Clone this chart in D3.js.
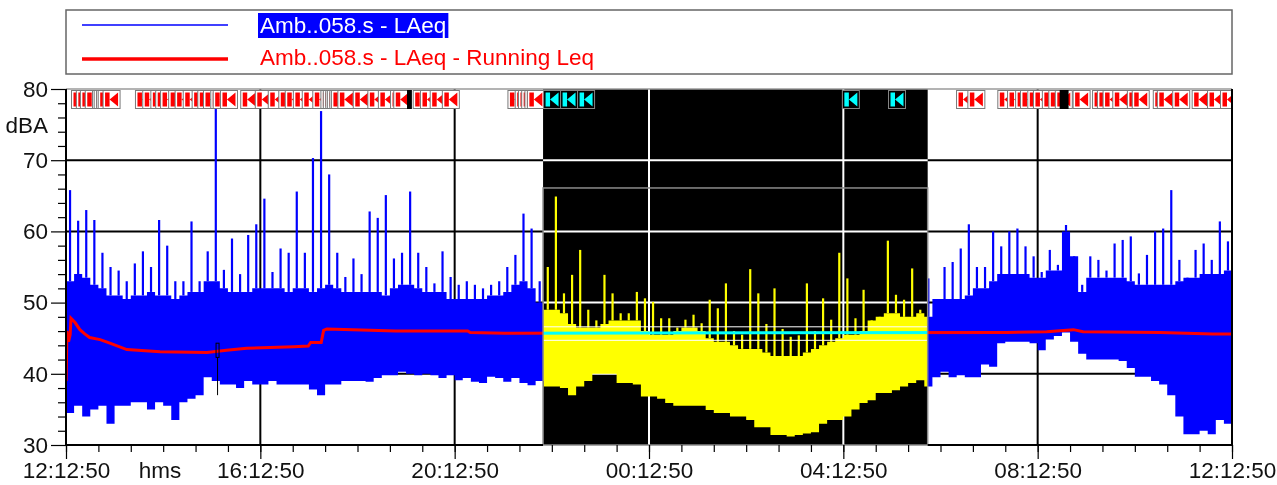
<!DOCTYPE html>
<html>
<head>
<meta charset="utf-8">
<script src="https://cdn.jsdelivr.net/npm/d3@7"></script>
<style>
  body { margin: 0; background: #fff; }
  text { font-family: "Liberation Sans", Arial, sans-serif; }
</style>
</head>
<body>
<div id="chart"></div>
<script>
// record starts 12:12:50, one envelope bin every 10 minutes (144 bins)
const startClock = "12:12:50";
const binMinutes = 10;

// lower edge of the LAeq trace in each bin (dBA)
const lo = [34.5, 35.5, 34, 35, 35.5, 33, 35.5, 35.5, 36, 36, 35, 36, 35.5, 33.5, 36, 36.5, 37, 39.5, 39, 38.5,
  38.5, 38, 39, 38.5, 38.5, 39, 38.5, 38.5, 38.5, 38.5, 37.8, 37, 38.5, 38.5, 39, 39, 39,
  38.9, 39.4, 39.8, 39.8, 40.3, 40, 39.8, 40, 39.8, 39.4, 39.8, 39.1, 39.4, 38.9, 38.7, 39.6, 39.4, 38.9, 39.4, 38.7, 38.4,
  39, 38.2, 38.2, 38, 37, 38.2, 39, 40, 40, 40, 38.7, 38.7, 38.5, 36.8, 36.8, 36.5, 35.9, 35.5, 35.5, 35.5,
  35.5, 34.9, 34.5, 34.5, 34, 34, 33.5, 32.5, 32.5, 31.4, 31.4, 31.2, 31.4, 31.6, 31.8, 33, 33.5, 33.5, 34, 35,
  35.9, 36.3, 37.3, 37.3, 37.7, 38.2, 38.7, 39.1, 38.2,
  39.5, 40.3, 39.5, 39.8, 39.5, 39.5, 41.3, 41, 44.3, 44.5, 44.5, 44.5, 44.3, 43.3, 44.8, 45.3, 45.8, 44.5, 42.8,
  42, 42, 42, 42, 41.8, 40.8, 39.6, 39.6, 39, 38.5, 37, 34, 31.5, 31.5, 32, 31.5, 33.5, 33];

// top of the dense part of the trace in each bin (dBA)
const body = [53, 54, 53.5, 52.5, 52, 51, 51, 50.5, 51, 51, 51.5, 51, 51, 50.5, 51, 51.5, 51.5, 53, 53, 52,
  51.5, 51.5, 51.5, 52, 52, 52, 52, 51.5, 52, 52, 51.5, 52, 52.5, 52, 51.5, 51.5, 51.5,
  51.5, 51.5, 51, 52, 52.5, 52.5, 52, 51.5, 51.5, 51.5, 50.5, 50.5, 50.5, 50.5, 50.5, 51, 51, 51.5, 52.5, 53, 52,
  50, 49, 49, 48.5, 47, 46.5, 46.5, 46.5, 47, 47.5, 47.5, 47.5, 47.5, 46, 45.5, 45.5, 45.5, 46, 46.5, 46.5,
  46, 45, 44.5, 44.5, 44, 43.5, 43.5, 43.5, 43, 42.5, 42.5, 42.5, 42.5, 43, 43.5, 44, 44.5, 45, 45.5, 45.5,
  46, 47.5, 48, 48.5, 48.5, 48, 48, 48.5, 48,
  50.5, 50.5, 50.5, 50.5, 51, 52, 52, 53, 54, 54, 54, 54, 53.5, 53.5, 54.5, 54.5, 60, 56.5, 51.5,
  53.5, 53.5, 53.5, 53.5, 53.5, 53, 52.5, 52.5, 52.5, 52.5, 52.5, 53, 53.5, 53.5, 54, 54, 54, 54.5];

// highest spike in each bin (dBA)
const peak = [65.8, 61.5, 63, 61.6, 57, 55, 54.5, 53, 55.5, 57.2, 55, 61.6, 58, 53, 53, 61.4, 53, 57.2, 79, 54.6,
  59, 54, 59.5, 61, 64.6, 54.3, 57.6, 57, 65.6, 57, 70.3, 76.9, 68, 57, 53.6, 56.2, 54,
  62.8, 61.9, 65.1, 56.2, 57, 65.6, 57, 55, 52.7, 57.2, 53.6, 52.5, 53, 52.5, 52, 52.5, 53, 55, 56.7, 62.5, 60.4,
  53, 55, 64.9, 51.3, 53.9, 57.4, 49, 47.5, 53.9, 51.3, 48.5, 48.5, 51.5, 50.6, 50.1, 47.8, 47.8, 46.5, 47.6, 48.3,
  47.1, 50.4, 49.2, 52.7, 46, 45.5, 54.7, 51.3, 47, 52, 46.3, 45.2, 45.4, 52.7, 46, 50.6, 47.6, 57, 53.4, 47.8,
  51.8, 46.9, 47, 58.7, 51.1, 50.4, 54.8, 49, 53.4,
  49, 55, 55.7, 57.6, 61, 55, 55, 60, 57.9, 60, 60.4, 57.9, 56.5, 54.3, 57.4, 55.3, 60.9, 54.1, 52.5,
  56.5, 56, 54.5, 58.3, 58.8, 59.3, 54.1, 56.7, 60, 60.4, 65.8, 56, 53, 57.4, 58.3, 56, 61.4, 58.6];

// running Leq
const leqTimes = ["12:13", "12:14", "12:16", "12:18", "12:19", "12:24", "12:30", "12:36", "12:42", "12:55",
  "13:07", "13:28", "14:09", "15:07", "15:31", "15:56", "16:54", "17:12", "17:15", "17:28",
  "17:31", "17:35", "18:07", "19:00", "20:29", "20:32", "21:15", "07:35", "08:24", "08:57",
  "09:09", "10:44", "11:49", "12:12:45"];
const leqValues = [39.0, 46.0, 44.5, 45.5, 47.8, 47.2, 46.2, 45.6, 45.1, 44.8,
  44.3, 43.4, 43.1, 43.0, 43.3, 43.6, 43.8, 43.9, 44.4, 44.4,
  46.1, 46.3, 46.2, 46.0, 46.0, 45.8, 45.7, 45.8, 45.9, 46.2,
  45.9, 45.8, 45.6, 45.6];

// night selection (drawn inverted)
const nightStart = "22:02", nightEnd = "05:57";
const nightFrameTop = 66.1;
const nightBand = [44.7, 46.6];

// event markers along the top
const markerTimes = ["12:19", "12:25", "12:30", "12:36", "12:45", "12:47", "12:50", "12:52", "12:58",
  "13:38", "13:47", "13:57", "14:03", "14:09", "14:19", "14:27", "14:37", "14:48", "14:55", "15:02",
  "15:11", "15:14", "15:23", "15:48", "16:06", "16:22", "16:35", "16:43", "16:53", "17:04", "17:17",
  "17:27", "17:30", "17:33", "17:35", "17:38", "17:40", "17:48", "18:07", "18:25", "18:38", "18:53",
  "18:57", "19:21", "19:30", "19:42", "19:57",
  "21:18", "21:27", "21:31", "21:35", "21:39", "21:42",
  "22:02", "22:23", "22:44", "04:11", "05:08",
  "06:32", "06:46", "07:23", "07:35", "07:45", "07:51", "08:00", "08:07", "08:18", "08:26", "08:34",
  "08:56", "09:20", "09:26", "09:33", "09:45", "10:03", "10:09", "10:35", "10:40", "10:59", "11:23",
  "11:42", "11:58"];
const blackMarks = [["19:14", "19:20"], ["08:40", "08:51"]];

// cursor on the 15:20 spike
const cursorTime = "15:20";
const cursorBox = [42.3, 44.3];
const cursorTail = 37;

const yTicks = [30, 40, 50, 60, 70, 80];
const yMinor = [32, 34, 36, 38, 42, 44, 46, 48, 52, 54, 56, 58, 62, 64, 66, 68, 72, 74, 76, 78];
const seriesName = "Amb..058.s - LAeq";
const leqName = "Amb..058.s - LAeq - Running Leq";

// ---------------------------------------------------------------
const W = 1277, H = 485;
const plot = { left: 66, right: 1232, top: 89, bottom: 445 };
const fs = 22.5;

const sp = startClock.split(":").map(Number);
const base = new Date(2021, 5, 1, sp[0], sp[1], sp[2]);
function clock(s) {
  const p = s.split(":").map(Number);
  const d = new Date(2021, 5, 1, p[0], p[1], p[2] || 0);
  if (d < base) d.setDate(d.getDate() + 1);
  return d;
}

const x = d3.scaleTime()
  .domain([base, d3.timeHour.offset(base, 24)])
  .range([plot.left, plot.right]);
const y = d3.scaleLinear().domain([30, 80]).range([plot.bottom, plot.top]);

const svg = d3.select("#chart").append("svg").attr("width", W).attr("height", H);
svg.append("rect").attr("width", W).attr("height", H).attr("fill", "#fff");

svg.append("defs").append("clipPath").attr("id", "plotclip")
  .append("rect")
  .attr("x", plot.left).attr("y", plot.top)
  .attr("width", plot.right - plot.left).attr("height", plot.bottom - plot.top);

// legend
const leg = svg.append("g");
leg.append("rect").attr("x", 66).attr("y", 10).attr("width", 1166).attr("height", 64)
  .attr("fill", "#fff").attr("stroke", "#666").attr("stroke-width", 1.5);
leg.append("line").attr("x1", 82).attr("x2", 228).attr("y1", 25).attr("y2", 25)
  .attr("stroke", "#0000ff").attr("stroke-width", 1.5);
leg.append("line").attr("x1", 82).attr("x2", 228).attr("y1", 59).attr("y2", 59)
  .attr("stroke", "#ff0000").attr("stroke-width", 3.5);
const hl = leg.append("rect").attr("x", 258).attr("y", 13).attr("height", 25).attr("fill", "#0000ff");
const t1 = leg.append("text").attr("x", 260).attr("y", 25).attr("dy", "0.35em")
  .attr("font-size", fs).attr("fill", "#fff").text(seriesName);
hl.attr("width", t1.node().getComputedTextLength() + 4);
leg.append("text").attr("x", 260).attr("y", 57).attr("dy", "0.35em")
  .attr("font-size", fs).attr("fill", "#ff0000").text(leqName);

// grid
const majors = d3.range(7).map(k => d3.timeHour.offset(base, 4 * k));
const minors = d3.range(37).map(k => d3.timeMinute.offset(base, 40 * k));
const grid = svg.append("g");
grid.selectAll(".hg").data(yTicks.slice(1, -1)).enter().append("line")
  .attr("x1", plot.left).attr("x2", plot.right)
  .attr("y1", d => y(d)).attr("y2", d => y(d))
  .attr("stroke", "#000").attr("stroke-width", 2);
grid.selectAll(".vg").data(majors.slice(1, -1)).enter().append("line")
  .attr("x1", d => x(d)).attr("x2", d => x(d))
  .attr("y1", plot.top).attr("y2", plot.bottom)
  .attr("stroke", "#000").attr("stroke-width", 2);

// LAeq trace
const bins = lo.map((v, i) => ({
  t: d3.timeMinute.offset(base, i * binMinutes), lo: v, hi: body[i], pk: peak[i]
}));
const last = bins[bins.length - 1];
const binsEnd = bins.concat([{ t: d3.timeMinute.offset(base, bins.length * binMinutes), lo: last.lo, hi: last.hi }]);

const data = svg.append("g").attr("clip-path", "url(#plotclip)");
data.append("path")
  .datum(binsEnd)
  .attr("fill", "#0000ff")
  .attr("d", d3.area().curve(d3.curveStepAfter)
    .x(d => x(d.t)).y0(d => y(d.lo)).y1(d => y(d.hi)));
data.selectAll(".pk").data(bins).enter().append("line")
  .attr("x1", d => x(d3.timeMinute.offset(d.t, binMinutes / 2)))
  .attr("x2", d => x(d3.timeMinute.offset(d.t, binMinutes / 2)))
  .attr("y1", d => y(d.hi)).attr("y2", d => y(d.pk))
  .attr("stroke", "#0000ff").attr("stroke-width", 2.2);

// running Leq
const leq = leqTimes.map((s, i) => ({ t: clock(s), v: leqValues[i] }));
data.append("path").datum(leq)
  .attr("fill", "none").attr("stroke", "#ff0000").attr("stroke-width", 3)
  .attr("d", d3.line().x(d => x(d.t)).y(d => y(d.v)));

// cursor
const cx = x(clock(cursorTime));
data.append("line").attr("x1", cx).attr("x2", cx)
  .attr("y1", y(cursorBox[0])).attr("y2", y(cursorTail))
  .attr("stroke", "#000").attr("stroke-width", 1);
data.append("rect").attr("x", cx - 1.5).attr("y", y(cursorBox[1]))
  .attr("width", 3).attr("height", y(cursorBox[0]) - y(cursorBox[1]))
  .attr("fill", "none").attr("stroke", "#000").attr("stroke-width", 1);

// marker strip
const strip = svg.append("g").attr("clip-path", "url(#plotclip)");
const boxW = 17, boxTop = plot.top + 1, boxH = 18;
markerTimes.forEach(s => {
  const bx = x(clock(s));
  const g = strip.append("g").attr("transform", `translate(${bx},${boxTop})`);
  g.append("rect").attr("x", 0.5).attr("y", 0.5).attr("width", boxW).attr("height", boxH)
    .attr("fill", "#fff").attr("stroke", "#7a7a7a").attr("stroke-width", 1);
  g.append("path").attr("fill", "#ff0000")
    .attr("d", "M2.5,2.5H7V16.5H2.5Z M7,9.5L15.5,2.5V16.5Z");
});
blackMarks.forEach(m => {
  strip.append("rect").attr("x", x(clock(m[0]))).attr("y", boxTop)
    .attr("width", x(clock(m[1])) - x(clock(m[0]))).attr("height", boxH + 1)
    .attr("fill", "#000");
});

// night selection: colour inversion
const nx0 = x(clock(nightStart)), nx1 = x(clock(nightEnd));
svg.append("rect")
  .attr("x", nx0).attr("y", plot.top).attr("width", nx1 - nx0).attr("height", plot.bottom - plot.top)
  .attr("fill", "#fff").style("mix-blend-mode", "difference");
svg.selectAll(".nb").data(nightBand).enter().append("line")
  .attr("x1", nx0).attr("x2", nx1).attr("y1", d => y(d)).attr("y2", d => y(d))
  .attr("stroke", "#fff").attr("stroke-width", 1);
svg.append("rect")
  .attr("x", nx0).attr("y", y(nightFrameTop))
  .attr("width", nx1 - nx0).attr("height", plot.bottom - y(nightFrameTop))
  .attr("fill", "none").attr("stroke", "#8a8a8a").attr("stroke-width", 1.5);

// frame
svg.append("line").attr("x1", plot.left).attr("x2", plot.right).attr("y1", plot.top).attr("y2", plot.top)
  .attr("stroke", "#9a9a9a").attr("stroke-width", 1.5);
svg.append("line").attr("x1", plot.right).attr("x2", plot.right).attr("y1", plot.top).attr("y2", plot.bottom)
  .attr("stroke", "#000").attr("stroke-width", 2);
svg.append("line").attr("x1", plot.left).attr("x2", plot.left).attr("y1", plot.top).attr("y2", plot.bottom + 1)
  .attr("stroke", "#000").attr("stroke-width", 2);
svg.append("line").attr("x1", plot.left).attr("x2", nx0).attr("y1", plot.bottom).attr("y2", plot.bottom)
  .attr("stroke", "#000").attr("stroke-width", 2);
svg.append("line").attr("x1", nx1).attr("x2", plot.right).attr("y1", plot.bottom).attr("y2", plot.bottom)
  .attr("stroke", "#000").attr("stroke-width", 2);

// axes
function styleAxis(g) {
  g.select(".domain").remove();
  g.selectAll(".tick line").attr("stroke", "#000").attr("stroke-width", 1.2);
  g.selectAll(".tick text").attr("font-size", fs).attr("fill", "#111")
    .style("font-family", '"Liberation Sans", Arial, sans-serif');
}
svg.append("g").attr("transform", `translate(${plot.left},0)`)
  .call(d3.axisLeft(y).tickValues(yMinor).tickSize(8).tickFormat(""))
  .call(styleAxis);
svg.append("g").attr("transform", `translate(${plot.left},0)`)
  .call(d3.axisLeft(y).tickValues(yTicks).tickSize(15).tickPadding(3).tickFormat(d3.format("d")))
  .call(styleAxis);
svg.append("g").attr("transform", `translate(0,${plot.bottom})`)
  .call(d3.axisBottom(x).tickValues(minors).tickSize(7).tickFormat(""))
  .call(styleAxis);
svg.append("g").attr("transform", `translate(0,${plot.bottom})`)
  .call(d3.axisBottom(x).tickValues(majors).tickSize(14).tickPadding(3).tickFormat(d3.timeFormat("%H:%M:%S")))
  .call(styleAxis);

svg.append("text").attr("x", 48).attr("y", 125).attr("dy", "0.35em").attr("text-anchor", "end")
  .attr("font-size", fs).attr("fill", "#111").text("dBA");
svg.append("text").attr("x", 160).attr("y", plot.bottom + 17).attr("dy", "0.71em").attr("text-anchor", "middle")
  .attr("font-size", fs).attr("fill", "#111").text("hms");
</script>
</body>
</html>
